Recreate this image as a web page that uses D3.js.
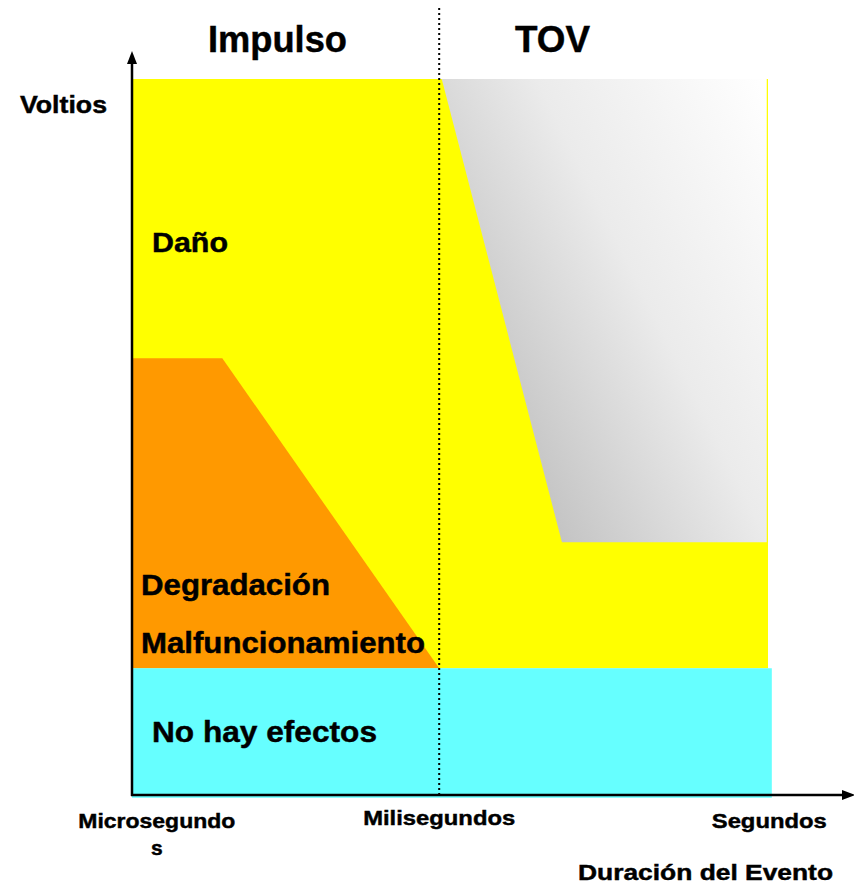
<!DOCTYPE html>
<html>
<head>
<meta charset="utf-8">
<script src="https://cdn.jsdelivr.net/npm/d3@7"></script>
<style>
	body { margin: 0; background: #fff; }
	text { font-family: "Liberation Sans", Arial, sans-serif; font-weight: bold; fill: #000;
		stroke: #000; stroke-width: 0.45; }
</style>
</head>
<body>
<div id="chart"></div>
<script>
// Durations on a 0..100 scale (relative position along the event-duration axis)
const durationTicks  = ["Microsegundos", "Milisegundos", "Segundos"];
const durationValues = [3.9, 48.3, 100.2];
const boundaryMs     = 48.3;   // Impulso | TOV divider

// Region outlines, as [duration, voltage] points (both 0..100)
const dangerZone   = [[0, 100], [100, 100], [100, 17.7], [0, 17.7]];
const degradeZone  = [[0, 61.0], [14.2, 61.0], [48.3, 17.7], [0, 17.7]];
const noEffectZone = [[0, 17.7], [100.6, 17.7], [100.6, -0.4], [0, -0.4]];
const tovZone      = [[48.7, 100], [99.8, 100], [99.8, 35.3], [67.6, 35.3]];

const sectionTitles = ["Impulso", "TOV"];

const width = 854, height = 884;

const svg = d3.select("#chart").append("svg")
	.attr("width", width).attr("height", height);

const x = d3.scaleLinear().domain([0, 100]).range([132, 768]);
const y = d3.scaleLinear().domain([0, 100]).range([795, 79]);

// gray shading of the TOV zone: darkest at its lower-left corner
const defs = svg.append("defs");
const grad = defs.append("linearGradient").attr("id", "tovGrad")
	.attr("gradientUnits", "userSpaceOnUse")
	.attr("x1", 562).attr("y1", 541).attr("x2", 912).attr("y2", 365);
[[0, "#c4c4c4"], [0.26, "#dadada"], [0.47, "#ebebeb"], [1, "#ffffff"]].forEach(s =>
	grad.append("stop").attr("offset", s[0]).attr("stop-color", s[1]));

const line = d3.line().x(d => x(d[0])).y(d => y(d[1]));
const zone = (pts, fill) => svg.append("path")
	.attr("d", line(pts) + "Z").attr("fill", fill);

zone(dangerZone, "#ffff00");
zone(degradeZone, "#ff9900");
zone(noEffectZone, "#66ffff");
zone(tovZone, "url(#tovGrad)");

// divider between impulse and TOV
svg.append("line")
	.attr("x1", x(boundaryMs)).attr("x2", x(boundaryMs))
	.attr("y1", 8).attr("y2", y(0))
	.attr("stroke", "#000").attr("stroke-width", 2)
	.attr("stroke-dasharray", "2,3");

// axes with arrows
svg.append("line")
	.attr("x1", x(0)).attr("x2", x(0)).attr("y1", y(0) + 1).attr("y2", 60)
	.attr("stroke", "#000").attr("stroke-width", 2.5);
svg.append("path")
	.attr("d", `M${x(0) - 5},${64} L${x(0)},${51} L${x(0) + 5},${64} Z`)
	.attr("fill", "#000");

svg.append("line")
	.attr("x1", x(0) - 1).attr("x2", 846).attr("y1", y(0)).attr("y2", y(0))
	.attr("stroke", "#000").attr("stroke-width", 2.5);
svg.append("path")
	.attr("d", `M${842},${y(0) - 5} L${855},${y(0)} L${842},${y(0) + 5} Z`)
	.attr("fill", "#000");

// tick labels on the duration axis
const tickWidths = [157, 152, 115];
const tickLabels = svg.append("g");
durationTicks.forEach((t, i) => {
	const tx = tickLabels.append("text")
		.attr("x", x(durationValues[i]))
		.attr("y", i === 1 ? 825 : 828)
		.attr("text-anchor", "middle")
		.attr("font-size", 21);
	if (i === 0) {
		tx.append("tspan").attr("x", x(durationValues[i]))
			.attr("textLength", tickWidths[i]).attr("lengthAdjust", "spacingAndGlyphs")
			.text(t.slice(0, -1));
		tx.append("tspan").attr("x", x(durationValues[i])).attr("dy", 27).text(t.slice(-1));
	} else {
		tx.attr("textLength", tickWidths[i]).attr("lengthAdjust", "spacingAndGlyphs").text(t);
	}
});

// labels
const label = (txt, lx, ly, size, len) => {
	const t = svg.append("text").attr("x", lx).attr("y", ly)
		.attr("font-size", size).text(txt);
	if (len) t.attr("textLength", len).attr("lengthAdjust", "spacingAndGlyphs");
	return t;
};

label(sectionTitles[0], 208, 52, 36, 139);
label(sectionTitles[1], 515, 52, 36, 75);
label("Voltios", 20, 113, 24, 87);
label("Daño", 152, 252, 28, 76);
label("Degradación", 141, 595, 29, 189);
label("Malfuncionamiento", 141, 653, 29, 284);
label("No hay efectos", 152, 742, 29, 225);
label("Duración del Evento", 578, 880, 22, 255);
</script>
</body>
</html>
